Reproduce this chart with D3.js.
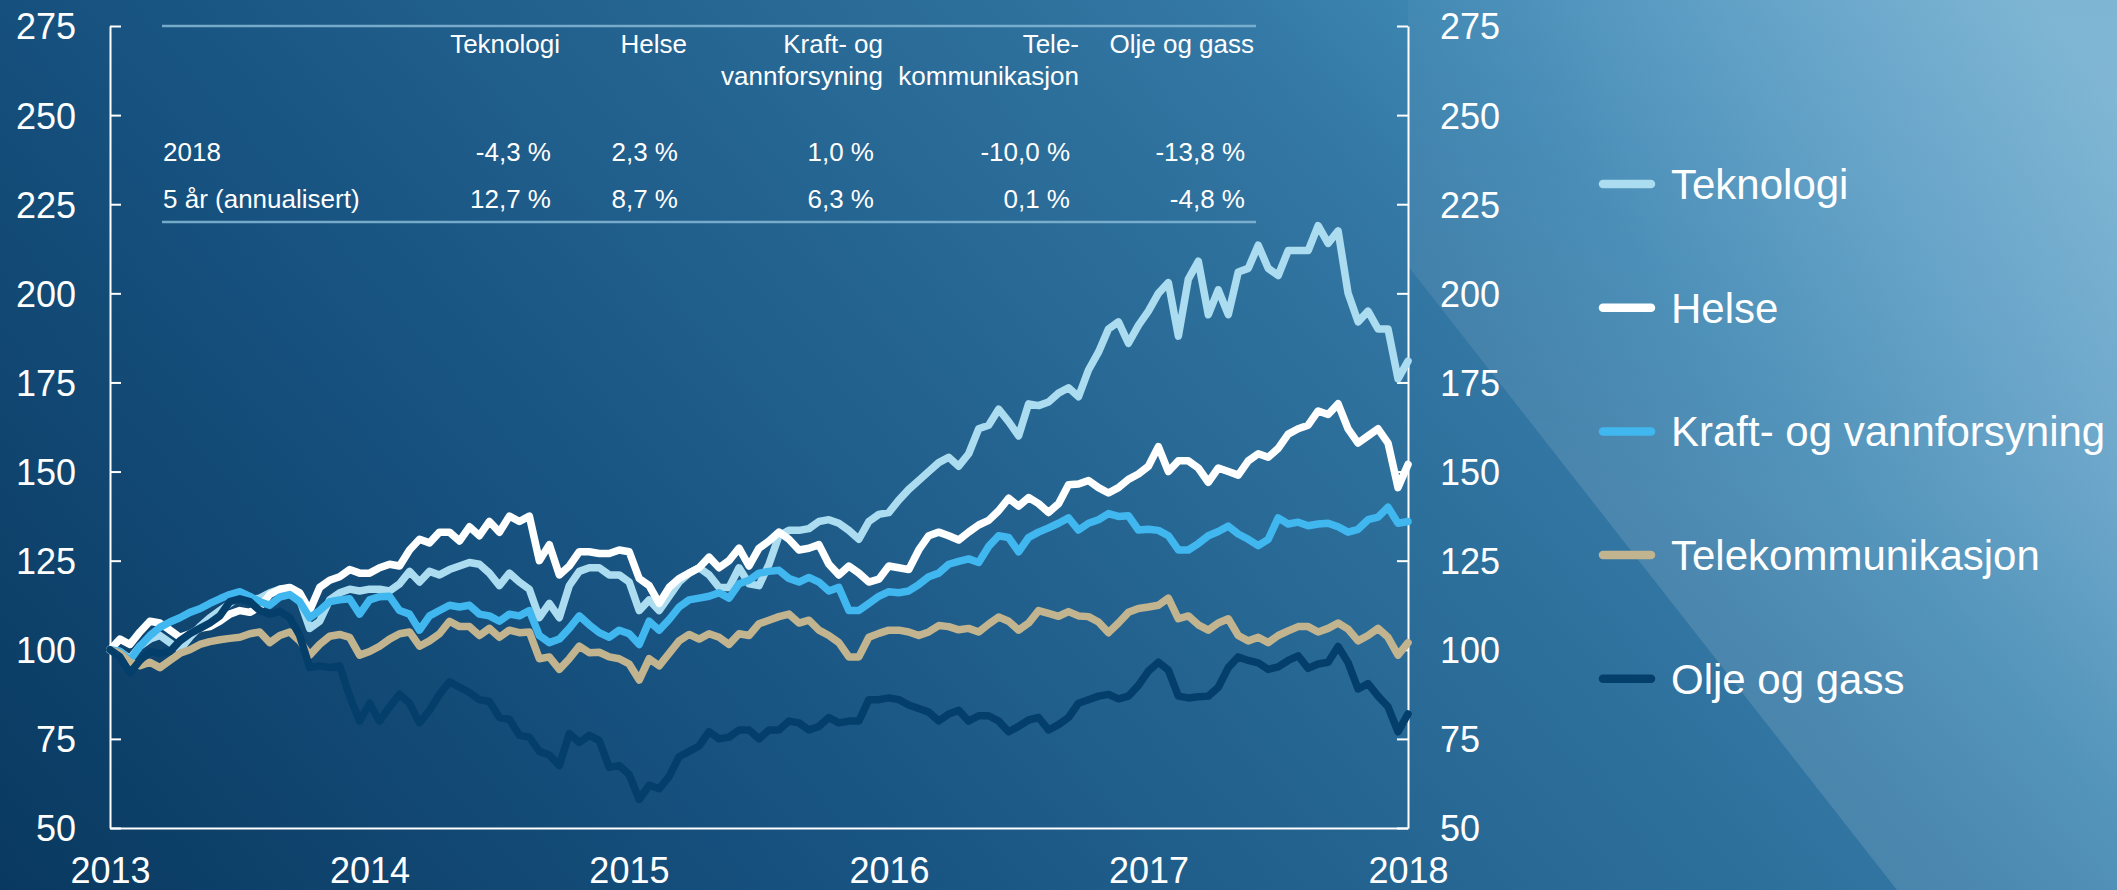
<!DOCTYPE html>
<html>
<head>
<meta charset="utf-8">
<script src="https://cdn.jsdelivr.net/npm/d3@7"></script>
<style>
  html, body { margin: 0; padding: 0; background: #0b3c64; }
  svg text { font-family: "Liberation Sans", Arial, sans-serif; fill: #ffffff; }
</style>
</head>
<body>
<div id="chart"></div>
<script>
// sector names (legend order = drawing order)
var sectors = ["Teknologi", "Helse", "Kraft- og vannforsyning", "Telekommunikasjon", "Olje og gass"];
var colors = ["#abdcf0", "#ffffff", "#41b7f0", "#c2b48e", "#043f6c"];

// index, 31.12.2013 = 100, roughly every second week
var teknologi = [100, 99.5, 97.5, 101, 103, 104, 102, 100, 103.5, 106.5, 109, 111, 113, 115, 114, 114.5, 116, 117, 117, 114, 106, 108, 114, 116, 117, 116.5, 117,
  117, 116.5, 118.5, 122, 119, 122, 121, 122.5, 123.5, 124.5, 124, 121.5, 118, 121.5, 119, 117, 109, 113, 109, 118, 122, 123, 123, 121, 121, 119,
  111, 114, 111, 115, 119, 121.5, 123, 121, 117.5, 117.5, 123, 118.5, 118, 124, 132, 133.5, 133.5, 134, 136, 136.5, 135.5, 133.5, 131, 136, 138, 138.5,
  142, 145, 147.5, 150, 152.5, 154, 151.5, 155, 162, 163, 167.5, 164, 160, 169, 168.5, 169.5, 172, 173.5, 171, 178.5, 183.5, 190, 192, 186, 191, 195,
  200, 203, 188, 204, 209, 194, 201, 194, 206, 207, 213.5, 207, 205, 212, 212, 212, 219, 214, 217.5, 200, 192, 195, 190, 190, 176, 181];
var helse = [100, 103, 101.5, 105, 108, 107.5, 105.5, 103.5, 104.5, 106, 106.5, 108, 110, 111, 110.5, 112, 115.5, 117, 117.5, 116, 111, 117.5, 119.5, 120.5, 122.5, 121.5, 121.5,
  123, 124, 123.5, 128, 131, 130, 133, 133, 130.5, 134.5, 132, 136, 133, 137.5, 136, 137.5, 125, 129.5, 121, 123.5, 127.5, 127.5, 127, 127, 128, 127.5,
  120, 118, 113, 117.5, 120, 121.5, 123, 126, 123, 125, 128.5, 123.5, 128.5, 130.5, 133, 131, 128, 128.5, 129.5, 124, 121, 123.5, 121.5, 119, 119.8, 123.5,
  123, 122.5, 128, 132, 133, 132, 130.8, 133, 135, 136.3, 139, 142.5, 140.3, 142.7, 141, 138.5, 141, 146.3, 146.5, 147.5, 145.5, 144, 145.5, 147.8, 149.3, 151.5,
  157, 150, 153, 153, 151, 147, 151, 150, 149, 153, 155, 154, 156.5, 160.5, 162, 163, 167, 166, 169, 162, 158, 160, 162, 158, 145.5, 152];
var kraft = [100, 99.5, 97, 101, 104, 106.3, 107.8, 109, 110.5, 111.5, 113, 114.3, 115.5, 116.3, 115, 113.5, 112.5, 114.8, 115.5, 113.5, 109, 111, 113.5, 114, 114.3, 110, 114,
  114.9, 115, 111, 110, 105.5, 109.5, 111, 112.5, 112, 112.5, 110, 109.5, 108, 110, 109.5, 111, 104, 102, 103, 106, 109.5, 107, 104.8, 103.5, 105.5, 104.5,
  101.5, 108, 105.5, 108.5, 112, 114, 114.5, 115, 116, 114.5, 118.5, 119.5, 121.5, 122, 122.3, 120, 119, 120.3, 119, 116.5, 117.5, 111, 111, 113, 115, 116.3,
  116, 116.5, 118.3, 120.5, 121.5, 124, 124.8, 125.5, 124.5, 129, 132, 131.5, 127.5, 131.5, 133, 134.2, 135.5, 137, 133.6, 135.5, 136.5, 138.2, 137.4, 137.6, 133.6, 133.8,
  133.5, 132, 128, 128, 129.8, 132, 133.2, 134.7, 132.5, 131, 129.2, 131, 137, 135.3, 135.8, 134.8, 135.3, 135.5, 134.5, 133, 133.8, 136.5, 137.2, 140, 135.5, 136];
var telekom = [100, 99, 96.5, 95.5, 96.5, 95, 97, 99, 100, 101.5, 102.3, 102.8, 103.2, 103.5, 104.5, 105, 102, 104, 105, 102.5, 98.5, 101.5, 103.8, 104.3, 103.5, 98.5, 99.5,
  101, 103, 104.5, 105, 101, 102.5, 104.5, 108, 106.5, 106.5, 104, 106, 103.5, 105.5, 104.8, 105, 97.5, 98, 94.5, 97.5, 101, 99.2, 99.3, 98, 97.5, 96,
  91.5, 97.5, 95.5, 99, 102.5, 104.3, 103, 104.5, 103.5, 101.5, 104.5, 104, 107.3, 108.3, 109.3, 110, 107.5, 108.3, 105.5, 104, 102, 98, 98, 103.5, 104.6, 105.5,
  105.5, 105, 104, 105, 106.8, 106.5, 105.6, 106, 105, 107.2, 109.2, 108, 105.5, 107.5, 111, 110.2, 109.4, 110.7, 109.5, 109.3, 107.8, 104.8, 107.5, 110.5, 111.6, 112,
  112.5, 114.5, 108.7, 109.5, 107, 105.5, 107.5, 108.7, 104, 102.5, 103.5, 102, 104, 105.3, 106.5, 106.5, 105, 106, 107.5, 105.8, 102.5, 104, 106, 103.5, 98.5, 102];
var oljeGass = [100, 98, 93.5, 97, 99.5, 99, 99.5, 102.5, 104.5, 106, 107.5, 109.5, 113.5, 114.3, 113.5, 111, 110, 110.8, 109, 104, 95, 95.5, 95, 95.5, 87, 80, 85,
  80, 84, 87.5, 85, 79.5, 83, 87.5, 91, 89.5, 88, 86, 85.5, 81, 80.5, 76, 75.5, 71.5, 70.5, 67.5, 76.5, 74, 76, 74.5, 67, 67.5, 65,
  58, 62, 61, 64.5, 70, 71.5, 73, 77, 75, 75.5, 77.5, 77.5, 75, 77.5, 77.5, 80, 79.5, 77.5, 78.5, 81, 79.5, 80, 80, 86, 86, 86.5,
  86, 84.5, 83.5, 82.5, 80, 82, 83, 80, 81.5, 81.5, 80, 77, 78.5, 80.3, 81, 77.5, 79, 81, 85, 86, 87, 87.5, 86.2, 87, 90, 94,
  96.5, 94.3, 87, 86.5, 86.8, 87, 89.5, 95, 98, 97, 96.3, 94.5, 95.2, 97, 98.3, 94.8, 96, 96.5, 100.9, 96.4, 89, 90.5, 87, 84, 77, 82];

var series = [teknologi, helse, kraft, telekom, oljeGass];

// table in the upper part of the plot
var tableHeads = [["Teknologi"], ["Helse"], ["Kraft- og", "vannforsyning"], ["Tele-", "kommunikasjon"], ["Olje og gass"]];
var rowLabels = ["2018", "5 år (annualisert)"];
var row2018 = ["-4,3 %", "2,3 %", "1,0 %", "-10,0 %", "-13,8 %"];
var row5y = ["12,7 %", "8,7 %", "6,3 %", "0,1 %", "-4,8 %"];

var yTicks = [50, 75, 100, 125, 150, 175, 200, 225, 250, 275];
var startDate = new Date(2013, 11, 31), endDate = new Date(2018, 11, 31);
var yearTicks = [2013, 2014, 2015, 2016, 2017, 2018].map(y => new Date(y, 11, 31));

var W = 2117, H = 890;
var dates = d3.range(teknologi.length).map(i => new Date(+startDate + i * (endDate - startDate) / (teknologi.length - 1)));

var svg = d3.select("#chart").append("svg")
	.attr("width", W)
	.attr("height", H);

// background: steep diagonal gradient + lighter wedge on the right
var defs = svg.append("defs");
var bg = defs.append("linearGradient").attr("id", "bg")
	.attr("gradientUnits", "userSpaceOnUse")
	.attr("x1", 0).attr("y1", 890).attr("x2", 1600).attr("y2", -500);
[[0, "#093960"], [0.3, "#175280"], [0.62, "#2d6f9b"], [0.7, "#3377a4"], [0.78, "#3d86b2"], [0.88, "#5a9cc4"], [1, "#7ab3d2"]]
	.forEach(s => bg.append("stop").attr("offset", s[0]).attr("stop-color", s[1]));
var wedge = defs.append("linearGradient").attr("id", "wedge")
	.attr("gradientUnits", "userSpaceOnUse")
	.attr("x1", 0).attr("y1", 0).attr("x2", 0).attr("y2", 500);
wedge.append("stop").attr("offset", 0).attr("stop-color", "#ffffff").attr("stop-opacity", 0.03);
wedge.append("stop").attr("offset", 1).attr("stop-color", "#ffffff").attr("stop-opacity", 0.12);

svg.append("rect").attr("width", W).attr("height", H).attr("fill", "url(#bg)");
svg.append("path")
	.attr("d", "M1408,0L2117,0L2117,890L1897,890L1408,266Z")
	.attr("fill", "url(#wedge)");

var x = d3.scaleTime().domain([startDate, endDate]).range([110, 1408]);
var y = d3.scaleLinear().domain([50, 275]).range([828, 26]);

// axes
var left = svg.append("g")
	.attr("transform", "translate(110,0)")
	.call(d3.axisLeft(y).tickValues(yTicks).tickSize(-11).tickSizeOuter(0).tickPadding(34));
var right = svg.append("g")
	.attr("transform", "translate(1408,0)")
	.call(d3.axisRight(y).tickValues(yTicks).tickSize(-11).tickSizeOuter(0).tickPadding(32));
var bottom = svg.append("g")
	.attr("transform", "translate(0,828)")
	.call(d3.axisBottom(x).tickValues(yearTicks).tickFormat(d3.timeFormat("%Y")).tickSize(0).tickPadding(29));

[left, right, bottom].forEach(g => {
	g.selectAll(".domain").attr("stroke", "#ffffff").attr("stroke-width", 2);
	g.selectAll(".tick line").attr("stroke", "#ffffff").attr("stroke-width", 2);
	g.selectAll("text").attr("font-size", 36).attr("fill", "#ffffff");
});
left.selectAll("text").attr("dy", "0.36em");
right.selectAll("text").attr("dy", "0.36em");
bottom.selectAll("text").attr("dy", "0.71em");

// table
var tbl = svg.append("g");
var colRight = [560, 687, 883, 1079, 1254];
tbl.selectAll("line.rule")
	.data([26, 222])
	.enter()
		.append("line")
		.attr("x1", 162).attr("x2", 1256)
		.attr("y1", d => d).attr("y2", d => d)
		.attr("stroke", "#86b9d6")
		.attr("stroke-width", 2.5)
		.attr("opacity", 0.85);

tableHeads.forEach((lines, c) => {
	lines.forEach((t, k) => {
		tbl.append("text")
			.attr("x", colRight[c]).attr("y", 53 + k * 32)
			.attr("text-anchor", "end")
			.attr("font-size", 26)
			.text(t);
	});
});
[row2018, row5y].forEach((row, r) => {
	tbl.append("text")
		.attr("x", 163).attr("y", 161 + r * 47)
		.attr("font-size", 26)
		.text(rowLabels[r]);
	row.forEach((t, c) => {
		tbl.append("text")
			.attr("x", colRight[c] - 9).attr("y", 161 + r * 47)
			.attr("text-anchor", "end")
			.attr("font-size", 26)
			.text(t);
	});
});

// lines
var line = d3.line()
	.x((d, i) => x(dates[i]))
	.y(d => y(d));

svg.append("g")
	.selectAll("path")
	.data(series)
	.enter()
		.append("path")
		.attr("d", d => line(d))
		.attr("fill", "none")
		.attr("stroke", (d, i) => colors[i])
		.attr("stroke-width", 7.5)
		.attr("stroke-linejoin", "round")
		.attr("stroke-linecap", "round");

// legend
var legend = svg.append("g")
	.selectAll("g")
	.data(sectors)
	.enter()
		.append("g")
		.attr("transform", (d, i) => "translate(0," + (184 + i * 123.7) + ")");
legend.append("line")
	.attr("x1", 1603).attr("x2", 1651)
	.attr("stroke", (d, i) => colors[i])
	.attr("stroke-width", 8.5)
	.attr("stroke-linecap", "round");
legend.append("text")
	.attr("x", 1671).attr("y", 15)
	.attr("font-size", 42)
	.text(d => d);
</script>
</body>
</html>
